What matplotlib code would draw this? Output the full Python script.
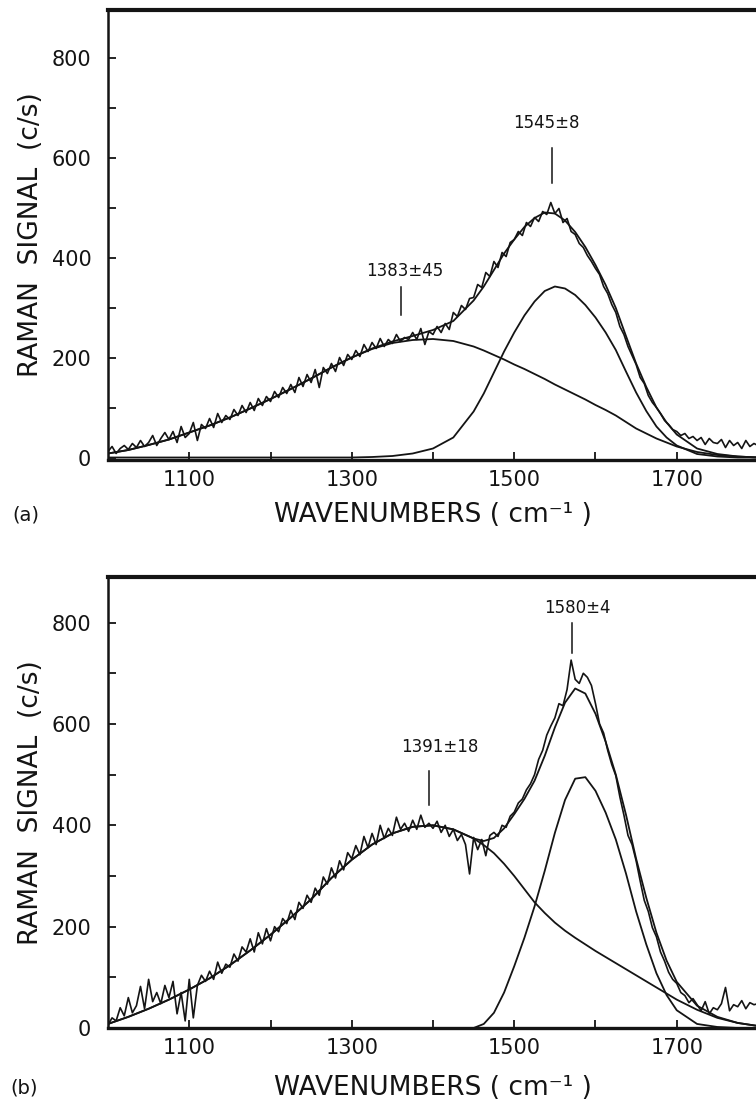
import matplotlib
matplotlib.use("Agg")
import matplotlib.pyplot as plt
from matplotlib.ticker import FixedLocator

plt.rcParams['font.family'] = ['DejaVu Sans']

# ---------------- data ----------------
# measured spectrum, 1000..1800 cm-1 every 5 cm-1
X_DATA = list(range(1000, 1801, 5))

SIGNAL_A = [
    12, 22, 8, 18, 24,
    16, 28, 20, 34, 22,
    30, 44, 24, 38, 50,
    36, 52, 30, 62, 40,
    48, 70, 34, 66, 58,
    78, 60, 88, 70, 84,
    76, 96, 84, 104, 90,
    110, 94, 118, 104, 122,
    112, 132, 120, 140, 128,
    146, 130, 160, 142, 166,
    150, 176, 140, 180, 168,
    188, 172, 200, 184, 206,
    196, 214, 202, 226, 212,
    230, 218, 238, 222, 236,
    228, 246, 232, 240, 236,
    250, 236, 258, 226, 252,
    246, 262, 250, 268, 256,
    290, 282, 304, 296, 318,
    320, 346, 340, 370, 362,
    392, 380, 410, 402, 430,
    436, 452, 444, 470, 462,
    480, 472, 492, 486, 510,
    488, 498, 470, 478, 452,
    446, 428, 420, 404, 392,
    378, 366, 342, 328, 306,
    290, 262, 246, 222, 204,
    186, 160, 148, 124, 110,
    100, 88, 74, 66, 56,
    52, 44, 48, 38, 42,
    34, 40, 26, 38, 30,
    28, 36, 20, 34, 24,
    30, 18, 34, 22, 28,
    24,
]

SIGNAL_B = [
    6, 20, 14, 40, 24,
    60, 30, 44, 82, 38,
    96, 52, 70, 48, 84,
    60, 92, 28, 70, 14,
    96, 20, 84, 104, 92,
    112, 96, 130, 108, 126,
    120, 146, 132, 160, 150,
    176, 150, 188, 166, 196,
    172, 200, 190, 216, 206,
    232, 214, 248, 236, 262,
    248, 276, 262, 298, 284,
    316, 296, 330, 312, 346,
    334, 360, 342, 378, 356,
    384, 362, 400, 374, 394,
    380, 416, 392, 404, 388,
    410, 392, 420, 396, 404,
    394, 408, 386, 400, 378,
    392, 370, 382, 362, 304,
    376, 352, 372, 340, 380,
    386, 378, 400, 396, 418,
    426, 444, 452, 470, 482,
    500, 530, 548, 578, 596,
    612, 640, 636, 668, 726,
    688, 680, 700, 692, 676,
    640, 600, 582, 548, 520,
    498, 456, 420, 380, 362,
    330, 290, 252, 230, 198,
    180, 150, 132, 110, 96,
    88, 70, 64, 50, 58,
    46, 34, 52, 28, 40,
    36, 48, 80, 34, 46,
    42, 54, 38, 50, 46,
    48,
]

# fitted band components
FIT_X = ([1000, 1025, 1050, 1075, 1100, 1125, 1150, 1175, 1200, 1225,
          1250, 1275, 1300, 1325, 1350, 1375, 1400, 1425]
         + [1450, 1462.5, 1475, 1487.5, 1500, 1512.5, 1525, 1537.5, 1550,
            1562.5, 1575, 1587.5, 1600, 1612.5, 1625, 1637.5, 1650, 1662.5,
            1675, 1687.5, 1700]
         + [1725, 1750, 1775, 1800])

D_BAND_A = ([8, 15, 25, 36, 50, 64, 80, 98, 117, 137, 158, 180, 200, 217, 229, 235, 237, 233]
            + [222, 214, 205, 196, 186, 177, 167, 157, 146, 136, 126, 116, 105, 95, 84,
               71, 58, 48, 38, 30, 22]
            + [11, 5, 2, 0])
G_BAND_A = ([0, 0, 0, 0, 0, 0, 0, 0, 0, 0, 0, 0, 0, 1, 3, 8, 18, 40]
            + [92, 128, 170, 212, 250, 284, 312, 333, 342, 338, 325, 305, 280, 250, 215,
               172, 130, 93, 62, 40, 24]
            + [7, 2, 0, 0])

D_BAND_B = ([8, 22, 38, 56, 76, 98, 124, 153, 184, 218, 254, 296, 332, 362, 384, 397, 400, 392]
            + [374, 361, 345, 324, 300, 274, 248, 227, 208, 192, 178, 165, 152, 140, 128,
               116, 104, 92, 80, 68, 56]
            + [36, 20, 10, 4])
G_BAND_B = ([0] * 18
            + [0, 8, 30, 70, 122, 178, 240, 310, 385, 450, 492, 495, 468, 425, 372,
               305, 230, 165, 108, 65, 35]
            + [8, 2, 0, 0])

# peak annotations: label, marker x, marker y-range, text position
PEAKS_A = [("1383±45", 1361, (286, 342), (1365, 372)),
           ("1545±8", 1546, (550, 620), (1540, 670))]
PEAKS_B = [("1391±18", 1395, (441, 508), (1408, 555)),
           ("1580±4", 1571, (740, 800), (1578, 828))]

X_MAJOR = [1100, 1300, 1500, 1700]
X_MINOR = [1200, 1400, 1600]
Y_MAJOR = [0, 200, 400, 600, 800]
Y_MINOR = [100, 300, 500, 700]

INK = '#141414'

fig = plt.figure(figsize=(7.56, 11.02), dpi=100)
axA = fig.add_axes([108 / 756, 1 - 460 / 1102, 650 / 756, 450 / 1102])
axB = fig.add_axes([108 / 756, 1 - 1028 / 1102, 650 / 756, 451 / 1102])


def draw(ax, signal, dband, gband, peaks, ylim, xlabel_y):
    total = [d + g for d, g in zip(dband, gband)]
    ax.plot(FIT_X, dband, color=INK, lw=1.3)
    ax.plot(FIT_X, gband, color=INK, lw=1.3)
    ax.plot(FIT_X, total, color=INK, lw=1.3)
    ax.plot(X_DATA, signal, color=INK, lw=1.2)
    for label, mx, (y0, y1), (tx, ty) in peaks:
        ax.plot([mx, mx], [y0, y1], color=INK, lw=1.1)
        ax.text(tx, ty, label, ha='center', va='center', fontsize=12, color=INK)

    ax.set_xlim(1000, 1800)
    ax.set_ylim(*ylim)
    ax.xaxis.set_major_locator(FixedLocator(X_MAJOR))
    ax.xaxis.set_minor_locator(FixedLocator(X_MINOR))
    ax.yaxis.set_major_locator(FixedLocator(Y_MAJOR))
    ax.yaxis.set_minor_locator(FixedLocator(Y_MINOR))
    ax.tick_params(axis='both', which='both', direction='in', length=6,
                   width=1.3, color=INK, top=False, right=False)
    ax.tick_params(axis='both', which='major', labelsize=15, labelcolor=INK)
    ax.tick_params(axis='x', which='major', pad=7)
    ax.tick_params(axis='y', which='major', pad=12)

    ax.spines['right'].set_visible(False)
    ax.spines['top'].set_linewidth(3.0)
    ax.spines['bottom'].set_linewidth(2.4)
    ax.spines['left'].set_linewidth(1.8)
    for s in ('top', 'bottom', 'left'):
        ax.spines[s].set_color(INK)

    ax.set_xlabel('WAVENUMBERS ( cm⁻¹ )', fontsize=19, color=INK)
    ax.xaxis.label.set_va('center')
    ax.xaxis.set_label_coords(0.5, xlabel_y)
    ax.set_ylabel('RAMAN  SIGNAL  (c/s)', fontsize=19, color=INK)
    ax.yaxis.label.set_va('center')
    ax.yaxis.set_label_coords(-0.118, 0.5)


draw(axA, SIGNAL_A, D_BAND_A, G_BAND_A, PEAKS_A, (-5, 895), -0.122)
draw(axB, SIGNAL_B, D_BAND_B, G_BAND_B, PEAKS_B, (0, 890), -0.133)

fig.text(26 / 756, 1 - 515 / 1102, '(a)', ha='center', va='center', fontsize=14, color=INK)
fig.text(24 / 756, 1 - 1088 / 1102, '(b)', ha='center', va='center', fontsize=14, color=INK)

fig.savefig('out.png', dpi=100)
